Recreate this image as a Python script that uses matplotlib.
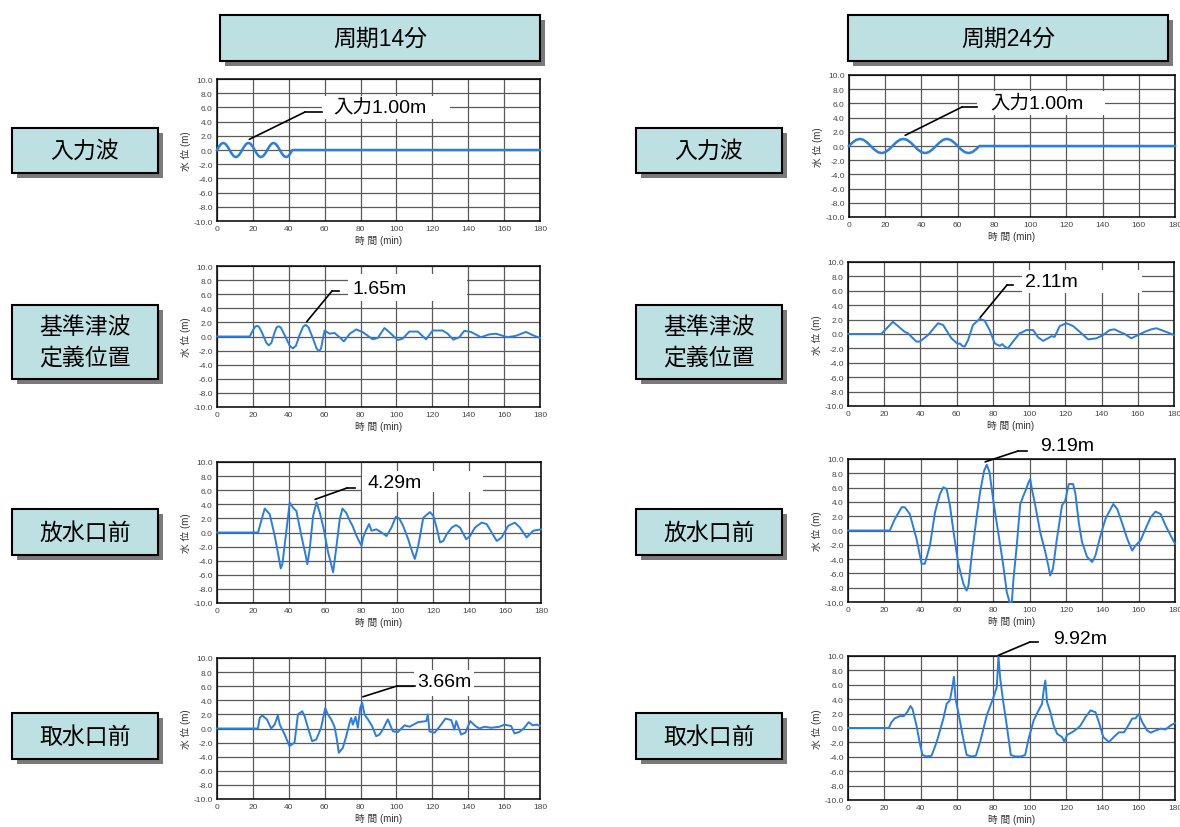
import matplotlib
matplotlib.use("Agg")
import matplotlib.pyplot as plt
from matplotlib.patches import Rectangle
from matplotlib.lines import Line2D

plt.rcParams['font.family'] = ['Liberation Sans', 'Noto Sans CJK JP', 'DejaVu Sans']

W, H = 1180, 828

# ---- data ----
col_titles = ['周期14分', '周期24分']
row_titles = ['入力波', '基準津波\n定義位置', '放水口前', '取水口前']
x_ticks = [0, 20, 40, 60, 80, 100, 120, 140, 160, 180]
y_ticks = [-10, -8, -6, -4, -2, 0, 2, 4, 6, 8, 10]
y_tick_labels = ['-10.0', '-8.0', '-6.0', '-4.0', '-2.0', '0.0', '2.0', '4.0', '6.0', '8.0', '10.0']

# period 14 min
in14_t = [0, 1.17, 2.33, 3.5, 4.67, 5.83, 7, 8.17, 9.33, 10.5, 11.67, 12.83,
          14, 15.17, 16.33, 17.5, 18.67, 19.83, 21, 22.17, 23.33, 24.5, 25.67, 26.83,
          28, 29.17, 30.33, 31.5, 32.67, 33.83, 35, 36.17, 37.33, 38.5, 39.67, 40.83,
          42, 180]
in14_v = [0, 0.5, 0.87, 1, 0.87, 0.5, 0, -0.5, -0.87, -1, -0.87, -0.5,
          0, 0.5, 0.87, 1, 0.87, 0.5, 0, -0.5, -0.87, -1, -0.87, -0.5,
          0, 0.5, 0.87, 1, 0.87, 0.5, 0, -0.5, -0.87, -1, -0.87, -0.5,
          0, 0]

def14_t = [0, 18.2, 20.3, 21.3, 22.3, 23.3, 25, 27.5, 28.9, 30.3, 32, 33.2, 34.3, 35.5, 37.5,
           40.5, 42.3, 44, 46, 48, 49.4, 51, 53.5, 55.5, 56.8, 58, 59, 60, 62.7, 65.5, 68.3,
           70.7, 74, 77.6, 81.3, 86.8, 89.6, 93.3, 96.1, 100.7, 103.5, 107.2, 111.9, 116.5,
           120.2, 125.7, 128.5, 131.7, 135, 137.8, 141.5, 147.1, 151.7, 155.4, 161.9, 166.6,
           172.2, 175.9, 180]
def14_v = [0, 0, 1.0, 1.4, 1.5, 1.4, 0.6, -0.9, -1.25, -0.9, 0.5, 1.3, 1.45, 1.3, 0.3,
           -1.3, -1.7, -1.3, 0.2, 1.4, 1.65, 1.3, -0.3, -1.7, -2.1, -1.7, -0.3, 0.85, 0.4, 0.5, -0.1,
           -0.7, 0.4, 1.0, 0.6, -0.4, -0.2, 1.2, 0.6, -0.5, -0.3, 0.7, 0.7, -0.4,
           0.85, 0.85, 0.4, -0.45, -0.1, 0.8, 0.65, -0.1, 0.3, 0.4, -0.1, 0.1,
           0.65, 0.2, -0.2]

out14_t = [0, 22.8, 26.5, 29.3, 32.1, 34.3, 35.4, 36.3, 38.2, 40.4, 42.3, 44.1, 46.9, 49.3, 50.2,
           51.5, 53.4, 55.3, 57.1, 59.3, 61.7, 63.6, 64.5, 66.4, 68.2, 69.7, 71.9, 73.8, 75.3,
           77.1, 78.4, 80.3, 81.2, 82.7, 84.5, 85.8, 88.6, 91.4, 94.2, 96.9, 99.4, 101.2, 103.4,
           106.2, 108.5, 109.9, 111.8, 114.6, 118.3, 120.2, 122, 123.9, 125.7, 127.6, 130.4,
           132.8, 135, 138.4, 140.6, 143.3, 147, 149.8, 152.6, 155.4, 158.1, 161.8, 165.5,
           168.3, 172, 175.7, 180]
out14_v = [0, 0, 3.4, 2.6, -0.5, -3.5, -5.1, -4.5, -0.5, 4.25, 3.5, 3.05, -0.5, -3.3, -4.5,
           -2.35, 2.35, 4.29, 2.8, 0.5, -2.8, -4.7, -5.65, -1.9, 1.9, 3.4, 2.75, 1.65, 0.95,
           -0.25, -0.95, -1.9, -0.7, 0.25, 1.2, 0.25, 0.45, 0, -0.5, 0.7, 2.25, 2.0, 0.95,
           -0.95, -2.8, -3.75, -1.9, 2.1, 2.9, 2.35, 0.7, -1.4, -1.2, -0.25, 0.7,
           1.05, 0.7, -0.95, -0.5, 0.7, 1.4, 1.2, 0, -1.2, -0.7, 0.95, 1.4,
           0.7, -0.7, 0.25, 0.45]

int14_t = [0, 22.8, 23.8, 25.2, 27.8, 30.2, 32.1, 33.9, 35, 37.7, 40.4, 43.2, 45.1, 47.5, 48.8,
           50.7, 53, 55.3, 58, 60.3, 61.8, 63.6, 65.5, 66.8, 67.9, 70.1, 72, 73.9, 74.8, 75.7,
           77.2, 78.5, 79.8, 80.9, 82.2, 84.1, 86.4, 88.7, 90.6, 92.4, 95.2, 98, 100.8, 104.5,
           107.3, 112, 116.6, 117.5, 118.4, 121.2, 124, 127.3, 130.5, 132.3, 133.3, 136, 138.4,
           141.1, 144, 146.2, 149, 152.8, 157.4, 160.2, 163.9, 165.8, 168.5, 171.3, 173.7,
           175.9, 178.2, 180]
int14_v = [0, 0, 1.5, 1.85, 1.3, 0, 0.55, 1.85, 0.55, -0.85, -2.5, -2.0, 2.0, 2.45, 1.75,
           0.1, -1.8, -1.55, 0.1, 2.9, 2.0, 1.3, 0.25, -1.55, -3.45, -2.75, -1.1, 0.8, 1.5, 0.55,
           1.65, 0.1, 2.9, 3.66, 2.0, 1.3, 0.35, -1.1, -0.85, -0.15, 1.3, -0.4, -0.5, 0.45,
           0.25, 0.9, 1.05, 2.0, -0.4, -0.6, 0.25, 1.4, 1.2, -0.15, 1.05, -0.85, -0.6,
           1.05, 0.35, 0, 0.25, 0.1, 0.25, 0.55, 0.35, -0.7, -0.5, 0.1, 0.9,
           0.45, 0.55, 0.35]

# period 24 min
in24_t = [0, 2, 4, 6, 8, 10, 12, 14, 16, 18, 20, 22, 24, 26, 28, 30, 32, 34, 36, 38, 40,
          42, 44, 46, 48, 50, 52, 54, 56, 58, 60, 62, 64, 66, 68, 70, 72, 180]
in24_v = [0, 0.5, 0.87, 1, 0.87, 0.5, 0, -0.5, -0.87, -1, -0.87, -0.5,
          0, 0.5, 0.87, 1, 0.87, 0.5, 0, -0.5, -0.87, -1, -0.87, -0.5,
          0, 0.5, 0.87, 1, 0.87, 0.5, 0, -0.5, -0.87, -1, -0.87, -0.5,
          0, 0]

def24_t = [0, 18.4, 24.8, 31.3, 33.1, 37.7, 39.6, 44.2, 49.7, 52.5, 57.1, 60.7, 61.7, 63.1,
           64.4, 66.3, 69, 72.7, 75.5, 78.2, 81, 83.8, 85.2, 86.5, 88.3, 91.1, 94.8, 96.6,
           98.5, 102.2, 104.9, 107.7, 110.4, 112.3, 114.1, 116.9, 120.6, 124.3, 128, 132.6,
           137.1, 140.8, 144.5, 147.2, 150, 152.8, 156.4, 160.1, 163.8, 167.5, 170.3, 174,
           176.7, 180]
def24_v = [0, 0, 1.7, 0.3, 0.1, -1.05, -1.05, -0.15, 1.5, 1.25, -0.6, -1.4, -1.3, -1.65,
           -1.75, -0.85, 1.25, 2.11, 1.85, 0.55, -1.3, -1.65, -1.4, -1.75, -2.0, -1.05, 0.1, 0.3,
           0.55, 0.55, -0.45, -0.95, -0.6, -0.3, -0.4, 1.1, 1.5, 1.1, 0.3, -0.75,
           -0.6, -0.15, 0.55, 0.65, 0.3, 0, -0.6, -0.15, 0.3, 0.65, 0.8, 0.45,
           0.2, -0.15]

out24_t = [0, 23, 25.8, 29.5, 31.3, 34, 37.7, 40.5, 42.3, 45.1, 47.9, 50.6, 52.5, 54.3, 56.1,
           58, 60.7, 63.5, 65.3, 66.3, 68.1, 70.9, 72.7, 74.9, 76.4, 77.9, 80.1, 82.8, 85.2,
           87.4, 88.9, 90.2, 91.1, 92.9, 94.8, 96.6, 98.1, 99.4, 100.3, 101.2, 103.1, 105.8,
           108.6, 110.4, 111.3, 112.8, 115, 117.8, 119.6, 121.5, 123.9, 125.2, 127, 128.8,
           131.6, 134.4, 136.2, 139, 141.7, 143.6, 146, 148.2, 151, 153.7, 156.4, 158.3, 161,
           163.8, 166.6, 169.3, 172.1, 174.8, 177.6, 180]
out24_v = [0, 0, 1.6, 3.25, 3.25, 2.3, -1.15, -4.65, -4.65, -2.1, 2.55, 5.1, 6.05, 5.8, 3.5,
           0, -4.65, -7.45, -8.4, -7.7, -3.5, 2.1, 5.35, 8.35, 9.19, 8.15, 3.95, -0.45, -4.4,
           -8.6, -10, -10, -6.75, -2.1, 3.7, 4.9, 5.8, 6.75, 7.2, 5.8, 3.5, -0.25,
           -3.0, -5.1, -6.3, -5.35, -1.15, 3.5, 4.2, 6.5, 6.5, 5.1, 1.15, -1.6,
           -3.7, -4.4, -3.5, -0.7, 1.6, 2.55, 3.7, 3.0, 0.95, -1.15, -2.8, -2.1, -1.4,
           0.25, 1.85, 2.65, 2.3, 0.7, -0.7, -1.85]

int24_t = [0, 22.5, 23.9, 25.8, 28.5, 30.7, 32.6, 34.4, 35.5, 37.7, 39.6, 41, 43.3, 46, 48.8,
           52.5, 54.3, 56.1, 57.6, 58.3, 59.2, 60.7, 63.1, 65.3, 68.1, 70.4, 72.7, 76.4, 80.1,
           81.9, 82.8, 83.8, 85.2, 87.4, 89.6, 92, 95.2, 97.5, 99.4, 102.2, 104.9, 106.8,
           107.7, 108.6, 109.6, 111.4, 113.2, 115.1, 117.8, 119.1, 120.6, 123.3, 126.1, 128,
           130.7, 133.5, 136.2, 138.1, 140.5, 143.6, 146.3, 149.1, 151.9, 153.7, 156.4, 158.3,
           160.1, 162, 164.7, 166.6, 169.3, 172.1, 174.8, 177.6, 180]
int24_v = [0, 0, 0.8, 1.35, 1.65, 1.65, 2.2, 3.05, 2.65, 0.35, -2.2, -3.75, -3.95, -3.85, -1.95,
           1.3, 3.35, 3.85, 5.9, 7.1, 4.05, 2.2, -1.05, -3.75, -3.95, -3.85, -1.95, 1.75, 4.3,
           5.7, 9.92, 6.85, 4.05, 0.35, -3.75, -3.95, -3.95, -3.75, -1.5, 1.05, 2.45, 3.35,
           5.2, 6.6, 3.6, 2.2, 0.35, -0.8, -1.25, -1.9, -0.95, -0.6, -0.1, 0.35,
           1.5, 2.45, 2.2, 0.8, -1.25, -1.95, -1.25, -0.6, -0.6, 0.1, 1.3, 1.35,
           1.95, 0.8, -0.35, -0.65, -0.35, -0.1, -0.2, 0.35, 0.7]

series = [[(in14_t, in14_v), (in24_t, in24_v)],
          [(def14_t, def14_v), (def24_t, def24_v)],
          [(out14_t, out14_v), (out24_t, out24_v)],
          [(int14_t, int14_v), (int24_t, int24_v)]]

labels = [['入力1.00m', '入力1.00m'], ['1.65m', '2.11m'], ['4.29m', '9.19m'], ['3.66m', '9.92m']]

# ---- layout (pixels of the 1180x828 canvas) ----
axes_px = [[(217, 80, 540, 222), (849, 76, 1175, 218)],
           [(217, 267, 540, 408), (848, 263, 1174, 407)],
           [(217, 463, 541, 604), (848, 460, 1175, 603)],
           [(217, 659, 540, 800), (848, 657, 1175, 801)]]
# tip in data coords, elbow, end of horizontal, text pos, white patch
notes = [[((18, 1.5), (305, 113), (322, 113), (333, 108), (322, 97, 450, 120)),
          ((31, 1.5), (962, 108), (977, 108), (990, 104), (977, 92, 1105, 116))],
         [((50, 2.1), (332, 292), (339, 292), (352, 289), (348, 275, 467, 302)),
          ((73, 2.3), (1007, 286), (1013, 286), (1025, 283), (1022, 271, 1142, 294))],
         [((54.5, 4.7), (347, 489), (355, 489), (368, 484), (362, 472, 483, 493)),
          ((75.5, 9.6), (1018, 452), (1027, 452), (1040, 447), (1034, 435, 1105, 459))],
         [((81.3, 4.5), (397, 687), (415, 687), (417, 683), (414, 671, 474, 697)),
          ((82.8, 10.1), (1030, 643), (1038, 643), (1053, 640), (1046, 628, 1112, 652))]]
header_px = [(220, 16, 540, 62), (848, 16, 1168, 62)]
row_px = [(129, 174), (306, 380), (510, 556), (714, 760)]
row_x = [(12, 158), (636, 782)]

BOX = '#bde0e3'
LINE = '#2a7de1'


def fx(x):
    return x / W


def fy(y):
    return 1 - y / H


fig = plt.figure(figsize=(W / 100, H / 100), dpi=100)


def box(l, t, r, b, text, size):
    fig.add_artist(Rectangle((fx(l + 5), fy(b + 5)), (r - l) / W, (b - t) / H,
                             transform=fig.transFigure, facecolor='#7a7a7a', edgecolor='none'))
    fig.add_artist(Rectangle((fx(l), fy(b)), (r - l) / W, (b - t) / H,
                             transform=fig.transFigure, facecolor=BOX, edgecolor='black', lw=1.5))
    fig.text(fx((l + r) / 2), fy((t + b) / 2), text, ha='center', va='center',
             fontsize=size, linespacing=1.4)


for c in range(2):
    l, t, r, b = header_px[c]
    box(l, t, r, b, col_titles[c], 16.5)
    for i in range(4):
        box(row_x[c][0], row_px[i][0], row_x[c][1], row_px[i][1], row_titles[i], 16.5)

for i in range(4):
    for c in range(2):
        l, t, r, b = axes_px[i][c]
        ax = fig.add_axes([fx(l), fy(b), (r - l) / W, (b - t) / H])
        ts, vs = series[i][c]
        lw = 1.8 if i == 0 else 1.4
        ax.plot(ts, vs, color=LINE, lw=lw, zorder=3, clip_on=False)
        ax.set_xlim(0, 180)
        ax.set_ylim(-10, 10)
        ax.set_xticks(x_ticks)
        ax.set_xticklabels([str(x) for x in x_ticks], fontsize=6, color='#444')
        ax.set_yticks(y_ticks)
        ax.set_yticklabels(y_tick_labels, fontsize=6, color='#444')
        ax.tick_params(length=0, pad=3)
        ax.grid(True, color='#5a5a5a', lw=0.9)
        for s in ax.spines.values():
            s.set_color('black')
            s.set_linewidth(1.1)
        ax.set_xlabel('時 間 (min)', fontsize=7, labelpad=2, color='#333')
        ax.set_ylabel('水 位 (m)', fontsize=7, labelpad=2, color='#333')

        tip, elbow, hend, tpos, patch = notes[i][c]
        pl, pt, pr, pb = patch
        fig.add_artist(Rectangle((fx(pl), fy(pb)), (pr - pl) / W, (pb - pt) / H,
                                 transform=fig.transFigure, facecolor='white',
                                 edgecolor='none', zorder=4))
        ax.annotate('', xy=tip, xycoords='data', xytext=(fx(elbow[0]), fy(elbow[1])),
                    textcoords='figure fraction', annotation_clip=False,
                    arrowprops=dict(arrowstyle='-', color='black', lw=1.2,
                                    shrinkA=0, shrinkB=0), zorder=6)
        fig.add_artist(Line2D([fx(elbow[0]), fx(hend[0])], [fy(elbow[1]), fy(hend[1])],
                              transform=fig.transFigure, color='black', lw=1.2, zorder=6))
        fig.text(fx(tpos[0]), fy(tpos[1]), labels[i][c], ha='left', va='center',
                 fontsize=14, zorder=7)

fig.savefig('out.png', dpi=100)
